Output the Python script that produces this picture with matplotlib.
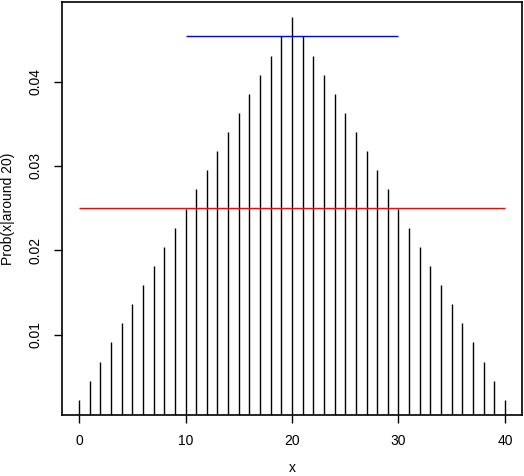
import matplotlib
matplotlib.use("Agg")
import matplotlib.pyplot as plt
import numpy as np

# spike heights (triangle peaking at x=20)
x = np.arange(0, 41)
prob = [0.00227, 0.00454, 0.00680, 0.00907, 0.01134, 0.01361, 0.01587,
        0.01814, 0.02041, 0.02268, 0.02494, 0.02721, 0.02948, 0.03175,
        0.03401, 0.03628, 0.03855, 0.04082, 0.04308, 0.04535, 0.04762,
        0.04535, 0.04308, 0.04082, 0.03855, 0.03628, 0.03401, 0.03175,
        0.02948, 0.02721, 0.02494, 0.02268, 0.02041, 0.01814, 0.01587,
        0.01361, 0.01134, 0.00907, 0.00680, 0.00454, 0.00227]

red_y, red_x = 0.025, (0, 40)
blue_y, blue_x = 0.0454, (10, 30)

xticks = [0, 10, 20, 30, 40]
yticks = [0.01, 0.02, 0.03, 0.04]

plt.rcParams['font.family'] = ['Liberation Sans', 'DejaVu Sans']
fig = plt.figure(figsize=(5.24, 4.76), dpi=100)
ax = fig.add_axes([62/524, 61/476, 460/524, 413/476])

ax.vlines(x, 0, prob, color='black', lw=1)
ax.hlines(red_y, *red_x, color='red', lw=1)
ax.hlines(blue_y, *blue_x, color='blue', lw=1)

rng = max(prob) - min(prob)
ax.set_xlim(-1.6, 41.6)
ax.set_ylim(min(prob) - 0.04 * rng, max(prob) + 0.04 * rng)

ax.set_xticks(xticks)
ax.set_xticklabels([str(t) for t in xticks])
ax.set_yticks(yticks)
ax.set_yticklabels([str(t) for t in yticks], rotation=90, va='center')
ax.tick_params(length=6, width=1, labelsize=10, pad=8)

for s in ax.spines.values():
    s.set_linewidth(1.2)

ax.set_xlabel('x', fontsize=10, va='center')
ax.xaxis.set_label_coords(0.5, -0.128)
ax.set_ylabel('Prob(x|around 20)', fontsize=10, va='center')
ax.yaxis.set_label_coords(-0.118, 0.5)

fig.savefig('out.png', dpi=100)
